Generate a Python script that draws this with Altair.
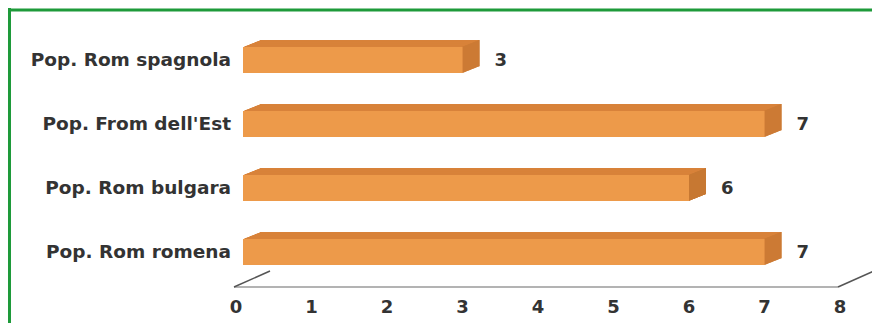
import altair as alt
import pandas as pd

categories = ["Pop. Rom spagnola", "Pop. From dell'Est", "Pop. Rom bulgara", "Pop. Rom romena"]
values = [3, 7, 6, 7]
ticks = [0, 1, 2, 3, 4, 5, 6, 7, 8]

bars = pd.DataFrame({"cat": categories, "value": values, "zero": [0] * len(values)})
tick_df = pd.DataFrame({"t": ticks})
floor_df = pd.DataFrame({"a": [ticks[0]], "b": [ticks[-1]]})
ends_df = pd.DataFrame({"e": [ticks[0], ticks[-1]]})

FRONT = "#ED9A4A"
TOP = "#D8823A"
SIDE = "#C77832"
TEXT = "#333333"
FONT = "DejaVu Sans"

xs = alt.Scale(domain=[0, 8], range=[228, 832], nice=False, zero=False)
ys = alt.Scale(domain=categories, range=[20, 276], paddingInner=0.59, paddingOuter=0.295)

STEPS = 17
DX = 1.0
DY = -0.4
START = 7


def rect_layer(color, xo, x2o, yo, left_field="zero:Q"):
    return alt.Chart(bars).mark_rect(
        color=color, xOffset=xo, x2Offset=x2o, yOffset=yo, y2Offset=yo
    ).encode(
        x=alt.X("value:Q", scale=xs, axis=None),
        x2=left_field,
        y=alt.Y("cat:N", scale=ys, axis=None),
    )


layers = []
# top face (extruded copies)
for k in range(STEPS, 0, -1):
    layers.append(rect_layer(TOP, k * DX, START + k * DX, k * DY))
# side face (narrow strips at the right end)
for k in range(STEPS, 0, -1):
    layers.append(rect_layer(SIDE, k * DX, (k - 1) * DX, k * DY, left_field="value:Q"))
# front face
layers.append(rect_layer(FRONT, 0, START, 0))

floor = alt.Chart(floor_df).mark_rule(color="#9a9a9a", strokeWidth=1.5, xOffset=-2, x2Offset=-2).encode(
    x=alt.X("a:Q", scale=xs, axis=None), x2="b:Q", y=alt.value(279)
)
slants = alt.Chart(ends_df).mark_rule(color="#555555", strokeWidth=1.5, xOffset=-2, x2Offset=34).encode(
    x=alt.X("e:Q", scale=xs, axis=None), x2="e:Q", y=alt.value(279), y2=alt.value(263)
)

cat_labels = alt.Chart(bars).mark_text(
    align="right", baseline="middle", fontSize=18.5, fontWeight="bold", font=FONT, color=TEXT
).encode(
    x=alt.value(223),
    y=alt.Y("cat:N", scale=ys, axis=None),
    text="cat:N",
)

val_labels = alt.Chart(bars).mark_text(
    align="left", baseline="middle", dx=32, dy=1, fontSize=18, fontWeight="bold", font=FONT, color=TEXT
).encode(
    x=alt.X("value:Q", scale=xs, axis=None),
    y=alt.Y("cat:N", scale=ys, axis=None),
    text="value:Q",
)

tick_labels = alt.Chart(tick_df).mark_text(
    align="center", baseline="middle", fontSize=18, fontWeight="bold", font=FONT, color=TEXT
).encode(
    x=alt.X("t:Q", scale=xs, axis=None),
    y=alt.value(300),
    text="t:Q",
)

border_top = alt.Chart(floor_df).mark_rule(color="#1E9A3A", strokeWidth=3).encode(
    x=alt.value(0), x2=alt.value(864), y=alt.value(2)
)
border_left = alt.Chart(floor_df).mark_rule(color="#1E9A3A", strokeWidth=3).encode(
    x=alt.value(1.5), y=alt.value(0), y2=alt.value(315)
)

chart = alt.layer(
    border_top, border_left, floor, slants, *layers, cat_labels, val_labels, tick_labels
).properties(
    width=864, height=315, padding=0, autosize=alt.AutoSizeParams(type="none")
).configure_view(stroke=None)

chart.save("out.html", embed_options={"renderer": "svg", "actions": False})
